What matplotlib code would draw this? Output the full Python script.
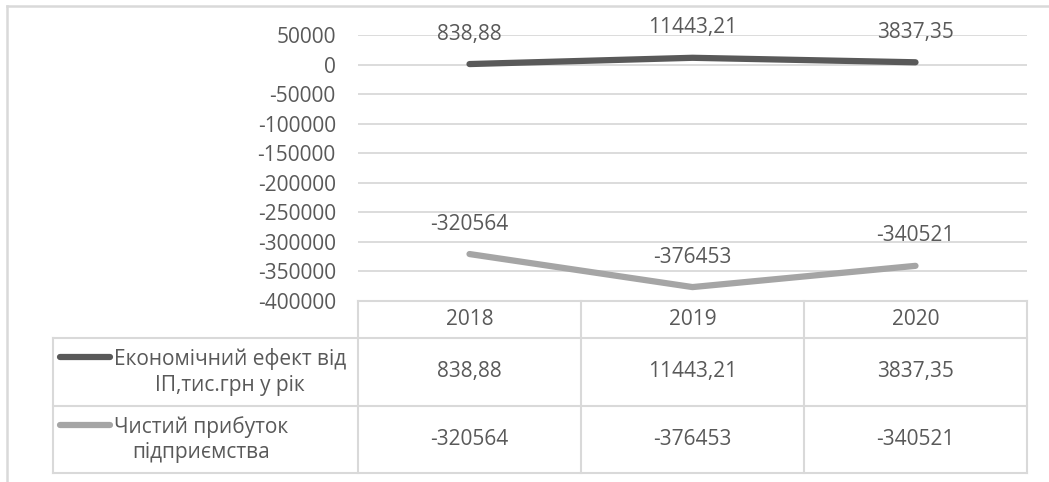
import matplotlib.pyplot as plt
from matplotlib.lines import Line2D

# data
years = ['2018', '2019', '2020']
effect = [838.88, 11443.21, 3837.35]
profit = [-320564, -376453, -340521]
series_names = ['Економічний ефект від\nІП,тис.грн у рік', 'Чистий прибуток\nпідприємства']
yticks = [50000, 0, -50000, -100000, -150000, -200000, -250000, -300000, -350000, -400000]

dark = '#595959'
light = '#a5a5a5'
grid = '#d9d9d9'
txt = '#595959'
fs = 15

plt.rcParams['font.family'] = ['Open Sans', 'DejaVu Sans']

W, H = 1049, 482
fig = plt.figure(figsize=(W / 100, H / 100), dpi=100)

# plot area in pixels
x0, x1, ytop, ybot = 358, 1027, 35, 301
ax = fig.add_axes([x0 / W, 1 - ybot / H, (x1 - x0) / W, (ybot - ytop) / H])
ax.set_xlim(-0.5, 2.5)
ax.set_ylim(-400000, 50000)
for s in ax.spines.values():
    s.set_visible(False)
ax.set_yticks(yticks)
ax.set_yticklabels([str(v) for v in yticks])
ax.tick_params(axis='y', length=0, labelsize=fs, labelcolor=txt, pad=16)
ax.set_xticks([])
ax.grid(axis='y', color=grid, linewidth=1.3)
ax.set_axisbelow(True)

xs = range(len(years))
ax.plot(xs, effect, color=dark, linewidth=4.5, solid_capstyle='round', zorder=3)
ax.plot(xs, profit, color=light, linewidth=4.5, solid_capstyle='round', zorder=3)

def fmt(v):
    if float(v).is_integer():
        return str(int(v))
    return f'{v:.2f}'.replace('.', ',')

for i in xs:
    ax.annotate(fmt(effect[i]), (i, effect[i]), xytext=(0, 30), textcoords='offset pixels',
                ha='center', va='center', fontsize=fs, color=txt)
    ax.annotate(fmt(profit[i]), (i, profit[i]), xytext=(0, 30), textcoords='offset pixels',
                ha='center', va='center', fontsize=fs, color=txt)

# overlay in pixel coords for table and frame
ov = fig.add_axes([0, 0, 1, 1])
ov.set_xlim(0, W)
ov.set_ylim(H, 0)
ov.axis('off')

def seg(xa, ya, xb, yb, c=grid, lw=1.5):
    ov.add_line(Line2D([xa, xb], [ya, yb], color=c, linewidth=lw))

# outer frame
seg(7, 6, W, 6, c='#d9d9d9', lw=1.8)
seg(7, 6, 7, H, c='#d9d9d9', lw=1.8)

# table
col_w = (x1 - x0) / len(years)
r0, r1, r2, r3 = 301, 338, 406, 473
tl = 53
seg(x0, r0, x1, r0)
seg(tl, r1, x1, r1)
seg(tl, r2, x1, r2)
seg(tl, r3, x1, r3)
seg(tl, r1, tl, r3)
for k in range(len(years) + 1):
    xv = x0 + k * col_w
    seg(xv, r0, xv, r3)

for k, yr in enumerate(years):
    xc = x0 + (k + 0.5) * col_w
    ov.text(xc, (r0 + r1) / 2, yr, ha='center', va='center', fontsize=fs, color=txt)
    ov.text(xc, (r1 + r2) / 2, fmt(effect[k]), ha='center', va='center', fontsize=fs, color=txt)
    ov.text(xc, (r2 + r3) / 2, fmt(profit[k]), ha='center', va='center', fontsize=fs, color=txt)

rows = [(r1, r2, dark), (r2, r3, light)]
for (ya, yb, c), name in zip(rows, series_names):
    yc = (ya + yb) / 2
    ov.add_line(Line2D([60, 110], [ya + 19, ya + 19], color=c, linewidth=4.5, solid_capstyle='round'))
    ov.text(114, yc, name, ha='left', va='center', multialignment='center',
            fontsize=fs, color=txt, linespacing=1.3)

fig.savefig('out.png', dpi=100)
